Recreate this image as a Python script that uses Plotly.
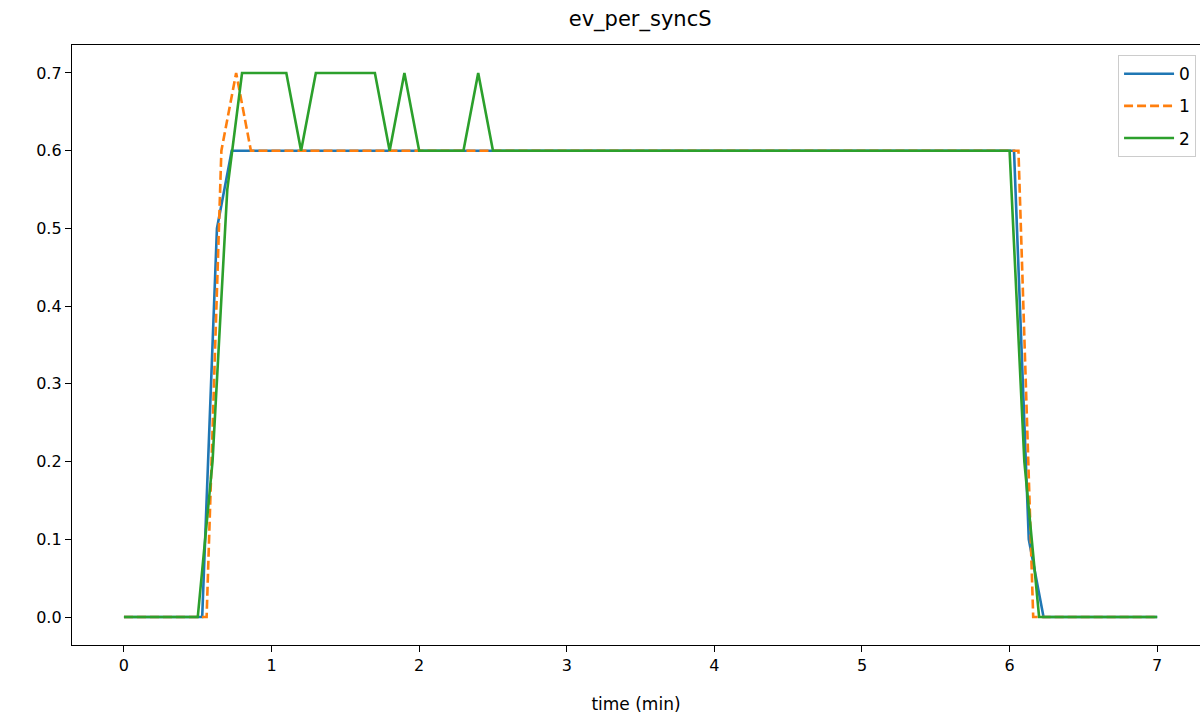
import plotly.graph_objects as go

# Series data (time in minutes, value)
t0 = [0.0, 0.53, 0.63, 0.73, 6.03, 6.13, 6.23, 7.0]
v0 = [0.0, 0.0, 0.5, 0.6, 0.6, 0.1, 0.0, 0.0]

t1 = [0.0, 0.56, 0.66, 0.76, 0.86, 6.06, 6.16, 7.0]
v1 = [0.0, 0.0, 0.6, 0.7, 0.6, 0.6, 0.0, 0.0]

t2 = [0.0, 0.5, 0.6, 0.7, 0.8, 1.1, 1.2, 1.3, 1.7, 1.8, 1.9, 2.0, 2.3, 2.4, 2.5, 6.0, 6.1, 6.2, 7.0]
v2 = [0.0, 0.0, 0.2, 0.55, 0.7, 0.7, 0.6, 0.7, 0.7, 0.6, 0.7, 0.6, 0.6, 0.7, 0.6, 0.6, 0.2, 0.0, 0.0]

names = ["0", "1", "2"]
colors = ["#1f77b4", "#ff7f0e", "#2ca02c"]
x_ticks = [0, 1, 2, 3, 4, 5, 6, 7]
y_ticks = [0.0, 0.1, 0.2, 0.3, 0.4, 0.5, 0.6, 0.7]
y_tick_text = ["0.0", "0.1", "0.2", "0.3", "0.4", "0.5", "0.6", "0.7"]

fig = go.Figure()
series = [(t0, v0, "solid"), (t1, v1, "9px,4px"), (t2, v2, "solid")]
for i, (t, v, dash) in enumerate(series):
    fig.add_trace(go.Scatter(
        x=t, y=v, mode="lines", name=names[i], legendgroup=names[i],
        line=dict(color=colors[i], width=2.6, dash=dash),
    ))

fig.update_layout(
    width=1201, height=717,
    margin=dict(l=72, r=1, t=45, b=72),
    paper_bgcolor="white", plot_bgcolor="white",
    font=dict(family="DejaVu Sans", size=16, color="black"),
    title=dict(text="ev_per_syncS", x=0.533, xanchor="center", y=0.974, yanchor="middle",
               font=dict(size=21, color="black")),
    showlegend=True,
    legend=dict(x=0.9965, xanchor="right", y=0.983, yanchor="top",
                bordercolor="#cccccc", borderwidth=1, bgcolor="rgba(255,255,255,0.8)",
                font=dict(size=17), tracegroupgap=7, itemwidth=50),
)
fig.update_xaxes(
    range=[-0.352, 7.29], tickvals=x_ticks, ticktext=[str(v) for v in x_ticks],
    showline=True, linecolor="black", linewidth=1.3, mirror=True,
    ticks="outside", ticklen=6, tickcolor="black", showgrid=False, zeroline=False,
    title=dict(text="time (min)", font=dict(size=17), standoff=23),
)
fig.update_yaxes(
    range=[-0.036, 0.736], tickvals=y_ticks, ticktext=y_tick_text,
    showline=True, linecolor="black", linewidth=1.3, mirror=False,
    ticks="outside", ticklen=6, tickcolor="black", showgrid=False, zeroline=False,
)

fig.write_html("out.html", config={"displayModeBar": False},
               post_script="document.body.style.margin='0';")
